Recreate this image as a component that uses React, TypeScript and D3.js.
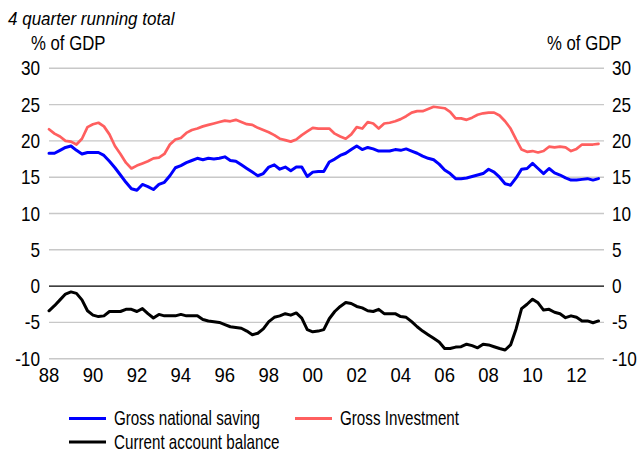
import React from "react";
import * as d3 from "d3";

// Quarterly observations, 4 quarter running totals, % of GDP, from 1988 Q1
const startYear = 1988;

const saving = [
  18.3, 18.3, 18.7, 19.1,
  19.3, 18.7, 18.2, 18.4,
  18.4, 18.4, 18.0, 17.2,
  16.3, 15.3, 14.3, 13.4,
  13.2, 14.0, 13.7, 13.3,
  14.0, 14.3, 15.2, 16.3,
  16.6, 17.0, 17.3, 17.6,
  17.4, 17.6, 17.5, 17.6,
  17.8, 17.3, 17.2, 16.7,
  16.2, 15.7, 15.2, 15.5,
  16.4, 16.7, 16.1, 16.4,
  15.9, 16.4, 16.4, 15.1,
  15.7, 15.8, 15.8, 17.1,
  17.5, 18.0, 18.3, 18.8,
  19.3, 18.8, 19.1, 18.9,
  18.6, 18.6, 18.6, 18.8,
  18.7, 18.9, 18.6, 18.3,
  17.9, 17.6, 17.4, 16.8,
  16.0, 15.5, 14.8, 14.8,
  14.9, 15.1, 15.3, 15.5,
  16.1, 15.7, 15.0, 14.1,
  13.9, 14.9, 16.1, 16.2,
  16.9, 16.2, 15.5, 16.2,
  15.6, 15.3, 14.9, 14.6,
  14.6, 14.7, 14.8, 14.6,
  14.8,
];

const investment = [
  21.6, 21.0, 20.6, 20.0,
  19.9, 19.5, 20.3, 21.9,
  22.3, 22.5, 22.0, 20.9,
  19.3, 18.2, 17.0, 16.2,
  16.6, 16.9, 17.2, 17.6,
  17.7, 18.2, 19.5, 20.2,
  20.4, 21.1, 21.5, 21.7,
  22.0, 22.2, 22.4, 22.6,
  22.8, 22.7, 22.9, 22.6,
  22.3, 22.2, 21.8, 21.5,
  21.2, 20.8, 20.3, 20.1,
  19.9, 20.2, 20.8, 21.3,
  21.8, 21.7, 21.7, 21.7,
  21.0, 20.6, 20.3, 20.9,
  21.9, 21.7, 22.6, 22.4,
  21.7, 22.4, 22.5, 22.7,
  23.0, 23.4, 23.9, 24.1,
  24.1, 24.4, 24.7, 24.6,
  24.5, 24.0, 23.1, 23.1,
  22.9, 23.2, 23.6, 23.8,
  23.9, 23.9, 23.5, 22.7,
  21.7, 20.2, 18.8, 18.5,
  18.6, 18.4, 18.6, 19.2,
  19.1, 19.2, 19.1, 18.6,
  18.9, 19.5, 19.5, 19.5,
  19.6,
];

const currentAccount = [
  -3.4, -2.7, -1.9, -1.1,
  -0.8, -1.0, -1.9, -3.4,
  -4.0, -4.2, -4.1, -3.5,
  -3.5, -3.5, -3.2, -3.2,
  -3.5, -3.1, -3.8, -4.4,
  -3.9, -4.1, -4.1, -4.1,
  -3.9, -4.1, -4.1, -4.1,
  -4.6, -4.8, -4.9, -5.0,
  -5.3, -5.6, -5.7, -5.8,
  -6.2, -6.7, -6.5, -5.9,
  -4.9, -4.3, -4.1, -3.8,
  -4.0, -3.7, -4.4, -6.0,
  -6.3, -6.2, -6.0, -4.5,
  -3.5, -2.8, -2.25, -2.4,
  -2.8, -3.0, -3.4, -3.5,
  -3.2, -3.8, -3.8, -3.8,
  -4.2, -4.3, -4.9, -5.6,
  -6.2, -6.7, -7.2, -7.7,
  -8.6, -8.6, -8.4, -8.35,
  -8.0, -8.2, -8.5, -8.0,
  -8.1, -8.35, -8.6, -8.8,
  -8.1, -5.9, -3.1, -2.5,
  -1.8, -2.3, -3.3, -3.2,
  -3.6, -3.8, -4.35, -4.1,
  -4.3, -4.8, -4.8, -5.05,
  -4.8,
];

const yTicks = [30, 25, 20, 15, 10, 5, 0, -5, -10];
const xTickYears = [1988, 1990, 1992, 1994, 1996, 1998, 2000, 2002, 2004, 2006, 2008, 2010, 2012];
const xTickLabels = ["88", "90", "92", "94", "96", "98", "00", "02", "04", "06", "08", "10", "12"];

const seriesNames = ["Gross national saving", "Gross Investment", "Current account balance"];

const W = 641;
const H = 453;
const FONT = "'Liberation Sans', Arial, sans-serif";

type Pt = { t: number; v: number };

function toPoints(values: number[]): Pt[] {
  return values.map((v, i) => ({ t: startYear + i / 4, v }));
}

function Label(props: {
  x: number;
  y: number;
  text: string;
  size: number;
  sx: number;
  anchor?: "start" | "middle" | "end";
  italic?: boolean;
}) {
  const { x, y, text, size, sx, anchor = "start", italic } = props;
  return (
    <text
      transform={`translate(${x},${y}) scale(${sx},1)`}
      fontFamily={FONT}
      fontSize={size}
      fontStyle={italic ? "italic" : "normal"}
      textAnchor={anchor}
      fill="#000"
    >
      {text}
    </text>
  );
}

export default function App() {
  const left = 49;
  const right = 604;
  const x = d3.scaleLinear().domain([1988, 2013.25]).range([left, right]);
  const y = d3.scaleLinear().domain([-10, 30]).range([358.7, 68.3]);

  const line = d3
    .line<Pt>()
    .x((d) => x(d.t))
    .y((d) => y(d.v));

  const series = [
    { name: seriesNames[0], data: toPoints(saving), color: "#0000ff", width: 3 },
    { name: seriesNames[1], data: toPoints(investment), color: "#ff5f5f", width: 2.7 },
    { name: seriesNames[2], data: toPoints(currentAccount), color: "#000000", width: 3 },
  ];

  const legend = [
    { s: series[0], lx: 69, ly: 418.5 },
    { s: series[1], lx: 295, ly: 418.5 },
    { s: series[2], lx: 69, ly: 442 },
  ];

  return (
    <svg
      width={W}
      height={H}
      viewBox={`0 0 ${W} ${H}`}
      style={{ position: "absolute", left: 0, top: 0, background: "#fff" }}
    >
      <rect x={0} y={0} width={W} height={H} fill="#fff" />

      {/* gridlines */}
      {yTicks.map((t) => (
        <line
          key={`g${t}`}
          x1={left}
          x2={right}
          y1={y(t)}
          y2={y(t)}
          stroke={t === 0 ? "#000" : "#c8c8c8"}
          strokeWidth={t === 0 ? 1.2 : 1.4}
        />
      ))}

      {/* y tick labels, both sides */}
      {yTicks.map((t) => (
        <g key={`yl${t}`}>
          <Label x={40} y={y(t) + 7} text={String(t)} size={20} sx={0.86} anchor="end" />
          <Label x={612} y={y(t) + 7} text={String(t)} size={20} sx={0.86} anchor="start" />
        </g>
      ))}

      {/* x tick labels */}
      {xTickYears.map((yr, i) => (
        <Label key={`xl${yr}`} x={x(yr)} y={382} text={xTickLabels[i]} size={21} sx={0.88} anchor="middle" />
      ))}

      {/* titles */}
      <Label x={8} y={24.5} text="4 quarter running total" size={18.5} sx={0.92} italic />
      <Label x={31} y={50} text="% of GDP" size={19.5} sx={0.86} />
      <Label x={547} y={50} text="% of GDP" size={19.5} sx={0.86} />

      {/* series */}
      {series.map((s) => (
        <path
          key={s.name}
          d={line(s.data) || ""}
          fill="none"
          stroke={s.color}
          strokeWidth={s.width}
          strokeLinejoin="round"
          strokeLinecap="round"
        />
      ))}

      {/* legend */}
      {legend.map(({ s, lx, ly }) => (
        <g key={`lg${s.name}`}>
          <line x1={lx} x2={lx + 37} y1={ly} y2={ly} stroke={s.color} strokeWidth={3} />
          <Label x={lx + 45} y={ly + 6.8} text={s.name} size={20} sx={0.76} />
        </g>
      ))}
    </svg>
  );
}
